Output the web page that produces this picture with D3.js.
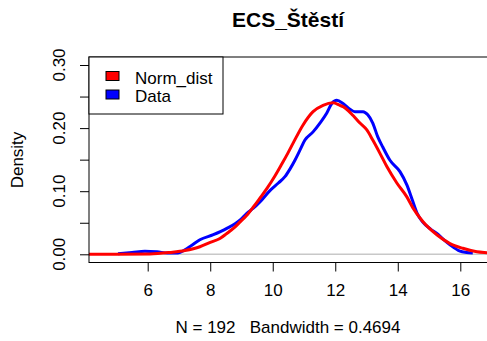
<!DOCTYPE html>
<html>
<head>
<meta charset="utf-8">
<script src="https://cdn.jsdelivr.net/npm/d3@7"></script>
<style>
  body { margin: 0; background: #fff; }
  text { font-family: "Liberation Sans", Arial, sans-serif; }
</style>
</head>
<body>
<div id="chart"></div>
<script>
// density of the data (blue)
var dataX = [5.05, 5.5, 5.91, 6.3, 6.65, 6.97, 7.19, 7.4, 7.67, 8.1, 8.53, 8.95, 9.17, 9.38, 9.59, 9.91, 10.18, 10.39, 10.55, 10.71, 10.87, 11.03, 11.29, 11.51, 11.73, 11.89, 12.05, 12.25, 12.47, 12.63, 12.89, 13.04, 13.2, 13.36, 13.52, 13.75, 14.07, 14.29, 14.48, 14.62, 14.8, 15.05, 15.25, 15.45, 15.67, 15.99, 16.2, 16.4];
var dataY = [0.001, 0.003, 0.005, 0.004, 0.002, 0.002, 0.007, 0.014, 0.023, 0.031, 0.041, 0.054, 0.065, 0.073, 0.083, 0.101, 0.113, 0.123, 0.135, 0.149, 0.165, 0.181, 0.194, 0.208, 0.224, 0.239, 0.244, 0.239, 0.23, 0.226, 0.226, 0.221, 0.208, 0.186, 0.17, 0.149, 0.131, 0.11, 0.084, 0.065, 0.051, 0.04, 0.033, 0.024, 0.015, 0.005, 0.003, 0.002];

// normal distribution curve (red)
var normX = [4.12, 5.0, 6.07, 6.71, 7.19, 7.67, 8.0, 8.31, 8.53, 8.74, 8.95, 9.17, 9.38, 9.59, 9.81, 10.07, 10.29, 10.48, 10.66, 10.97, 11.29, 11.61, 11.93, 12.15, 12.25, 12.57, 12.79, 13.01, 13.2, 13.43, 13.65, 13.97, 14.29, 14.48, 14.8, 15.25, 15.67, 16.08, 16.53, 16.85, 17.3];
var normY = [0.0, 0.0, 0.0005, 0.003, 0.006, 0.012, 0.019, 0.025, 0.033, 0.041, 0.051, 0.062, 0.075, 0.089, 0.104, 0.124, 0.143, 0.16, 0.177, 0.205, 0.226, 0.236, 0.24, 0.236, 0.234, 0.22, 0.208, 0.197, 0.181, 0.16, 0.139, 0.113, 0.091, 0.074, 0.052, 0.031, 0.017, 0.0095, 0.004, 0.0025, 0.001];

var xTicks = [6, 8, 10, 12, 14, 16];
var yTicks = [0, 0.05, 0.10, 0.15, 0.20, 0.25, 0.30];
var yLabels = [0, 0.10, 0.20, 0.30];

var legendNames = ["Norm_dist", "Data"];
var legendColors = ["#ff0000", "#0000ff"];

var chartTitle = "ECS_Štěstí";
var xTitle = "N = 192   Bandwidth = 0.4694";
var yTitle = "Density";

var width = 487, height = 341;
var box = {left: 89, top: 57, right: 500, bottom: 262.5};

var svg = d3.select("#chart")
    .append("svg")
    .attr("width", width)
    .attr("height", height);

var x = d3.scaleLinear().domain([6, 16]).range([147.7, 460.3]);
var y = d3.scaleLinear().domain([0, 0.30]).range([254.3, 65]);

// clip for the plot region
svg.append("clipPath")
    .attr("id", "plotclip")
  .append("rect")
    .attr("x", box.left)
    .attr("y", box.top)
    .attr("width", box.right - box.left)
    .attr("height", box.bottom - box.top);

var plot = svg.append("g").attr("clip-path", "url(#plotclip)");

// zero line
plot.append("line")
    .attr("x1", box.left)
    .attr("x2", box.right)
    .attr("y1", y(0))
    .attr("y2", y(0))
    .style("stroke", "#c8c8c8")
    .style("stroke-width", 1.5);

var line = d3.line()
    .x(function(d) { return x(d[0]); })
    .y(function(d) { return y(d[1]); })
    .curve(d3.curveMonotoneX);

plot.append("path")
    .datum(d3.zip(dataX, dataY))
    .attr("d", line)
    .style("fill", "none")
    .style("stroke", "#0000ff")
    .style("stroke-width", 3);

plot.append("path")
    .datum(d3.zip(normX, normY))
    .attr("d", line)
    .style("fill", "none")
    .style("stroke", "#ff0000")
    .style("stroke-width", 3);

// frame
svg.append("rect")
    .attr("x", box.left)
    .attr("y", box.top)
    .attr("width", box.right - box.left)
    .attr("height", box.bottom - box.top)
    .style("fill", "none")
    .style("stroke", "#000")
    .style("stroke-width", 1);

// x axis
var xAxis = d3.axisBottom(x)
    .tickValues(xTicks)
    .tickSize(9)
    .tickPadding(12)
    .tickFormat(d3.format("d"));

var gx = svg.append("g")
    .attr("transform", "translate(0," + box.bottom + ")")
    .call(xAxis);
gx.select(".domain").remove();
gx.selectAll("line").style("stroke", "#000");
gx.selectAll("text")
    .style("font-size", "17px")
    .style("fill", "#000");

// y axis
var yAxis = d3.axisLeft(y)
    .tickValues(yTicks)
    .tickSize(9)
    .tickFormat("");

var gy = svg.append("g")
    .attr("transform", "translate(" + box.left + ",0)")
    .call(yAxis);
gy.select(".domain").remove();
gy.selectAll("line").style("stroke", "#000");

svg.selectAll(".ylab")
    .data(yLabels)
  .enter().append("text")
    .attr("class", "ylab")
    .attr("transform", function(d) {
      return "translate(64.5," + y(d) + ") rotate(-90)";
    })
    .attr("text-anchor", "middle")
    .style("font-size", "17px")
    .text(function(d) { return d3.format(".2f")(d); });

// titles
svg.append("text")
    .attr("x", 288)
    .attr("y", 27)
    .attr("text-anchor", "middle")
    .style("font-size", "21px")
    .style("font-weight", "bold")
    .text(chartTitle);

svg.append("text")
    .attr("x", 288)
    .attr("y", 333)
    .attr("text-anchor", "middle")
    .style("font-size", "17px")
    .style("white-space", "pre")
    .text(xTitle);

svg.append("text")
    .attr("transform", "translate(23,160) rotate(-90)")
    .attr("text-anchor", "middle")
    .style("font-size", "17px")
    .text(yTitle);

// legend
var legend = svg.append("g");

legend.append("rect")
    .attr("x", box.left)
    .attr("y", box.top)
    .attr("width", 134)
    .attr("height", 57)
    .style("fill", "#fff")
    .style("stroke", "#000");

var items = legend.selectAll(".item")
    .data(legendNames)
  .enter().append("g")
    .attr("class", "item")
    .attr("transform", function(d, i) {
      return "translate(0," + (i * 18.5) + ")";
    });

items.append("rect")
    .attr("x", 106)
    .attr("y", 71.5)
    .attr("width", 13)
    .attr("height", 9)
    .style("fill", function(d, i) { return legendColors[i]; })
    .style("stroke", "#000");

items.append("text")
    .attr("x", 135)
    .attr("y", 83.5)
    .style("font-size", "17px")
    .text(function(d) { return d; });
</script>
</body>
</html>
